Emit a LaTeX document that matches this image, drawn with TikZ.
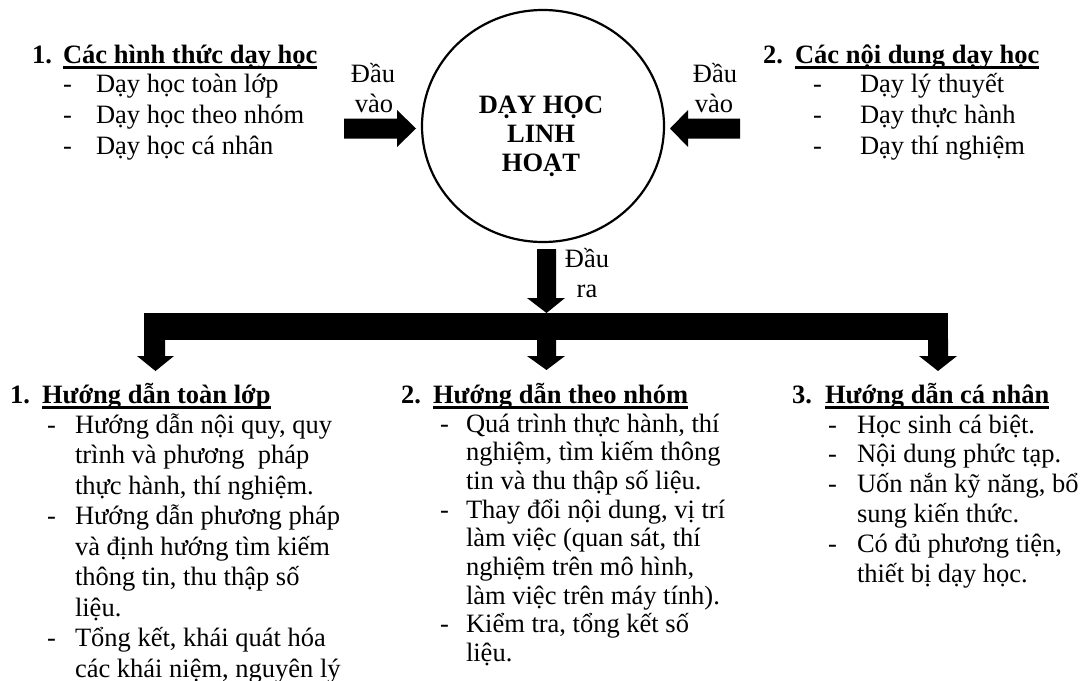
\documentclass[tikz,border=0pt]{standalone}
\usepackage{fontspec}
\setmainfont{Liberation Serif}
\begin{document}
\begin{tikzpicture}[x=1pt,y=-1pt,
  every node/.style={inner sep=0pt,outer sep=0pt},
  txt/.style={anchor=base west,font=\fontsize{26.5}{31}\selectfont},
  bld/.style={anchor=base west,font=\fontsize{26.5}{31}\selectfont\bfseries},
  ctr/.style={anchor=base,font=\fontsize{26.5}{31}\selectfont},
  ctrb/.style={anchor=base,font=\fontsize{26.5}{31}\selectfont\bfseries},
  uline/.style={line width=2.6pt},
  ring/.style={line width=2.2pt},
  blockarrow/.style={fill=black,draw=none}]
\useasboundingbox (0,0) rectangle (1084,680);
\clip (0,0) rectangle (1084,680);

% ---- centre circle
\coordinate (c) at (543,126);
\draw[ring] (c) ellipse [x radius=121, y radius=116];
\node[ctrb] (c1) at (541,113) {DẠY HỌC};
\node[ctrb] (c2) at (541,142) {LINH};
\node[ctrb] (c3) at (541,171) {HOẠT};

% ---- top left list
\node[bld] (n1) at (32,63) {1.};
\node[bld] (t1) at (63,63) {Các hình thức dạy học};
\draw[uline] ([yshift=-4.5pt]t1.base west) -- ([yshift=-4.5pt]t1.base east);
\foreach \s [count=\i from 0] in {Dạy học toàn lớp,Dạy học theo nhóm,Dạy học cá nhân}{
  \node[txt] (tld\i) at (63,92+31*\i) {-};
  \node[txt] (tl\i) at (96,92+31*\i) {\s};
}

% ---- top right list
\node[bld] (n2) at (763,63) {2.};
\node[bld] (t2) at (795,63) {Các nội dung dạy học};
\draw[uline] ([yshift=-4.5pt]t2.base west) -- ([yshift=-4.5pt]t2.base east);
\foreach \s [count=\i from 0] in {Dạy lý thuyết,Dạy thực hành,Dạy thí nghiệm}{
  \node[txt] (trd\i) at (813,92+31*\i) {-};
  \node[txt] (tr\i) at (860,92+31*\i) {\s};
}

% ---- input arrows and labels
\node[ctr] (inl1) at (373,82) {Đầu};
\node[ctr] (inl2) at (374,112) {vào};
\fill[blockarrow] (344,118.5) -- (397,118.5) -- (397,110) -- (416,128.5) -- (397,147) -- (397,138.5) -- (344,138.5) -- cycle;
\node[ctr] (inr1) at (715,82) {Đầu};
\node[ctr] (inr2) at (714,112) {vào};
\fill[blockarrow] (740,118.5) -- (688,118.5) -- (688,110) -- (670,128.5) -- (688,147) -- (688,138.5) -- (740,138.5) -- cycle;

% ---- output arrow, bar and branches
\node[ctr] (out1) at (587,267) {Đầu};
\node[ctr] (out2) at (587,297) {ra};
\fill[blockarrow] (537,249) -- (556,249) -- (556,298) -- (565,298) -- (546.5,313) -- (527,298) -- (537,298) -- cycle;
\fill[blockarrow] (144,313) rectangle (948,340);
\fill[blockarrow] (144,339) -- (165,339) -- (165,356) -- (174,356) -- (155.5,371) -- (137,356) -- (144,356) -- cycle;
\fill[blockarrow] (537,339) -- (556,339) -- (556,356) -- (565,356) -- (546.5,370) -- (527,356) -- (537,356) -- cycle;
\fill[blockarrow] (928,339) -- (948,339) -- (948,356) -- (957,356) -- (938,371) -- (919,356) -- (928,356) -- cycle;

% ---- bottom column 1
\node[bld] (b1n) at (10,403) {1.};
\node[bld] (b1t) at (42,403) {Hướng dẫn toàn lớp};
\draw[uline] ([yshift=-4.5pt]b1t.base west) -- ([yshift=-4.5pt]b1t.base east);
\foreach \s [count=\i from 0] in {{Hướng dẫn nội quy, quy},{trình và phương\ \ pháp},{thực hành, thí nghiệm.},{Hướng dẫn phương pháp},{và định hướng tìm kiếm},{thông tin, thu thập số},{liệu.},{Tổng kết, khái quát hóa},{các khái niệm, nguyên lý}}{
  \node[txt] (b1l\i) at (75,433+30.5*\i) {\s};
}
\foreach \i in {0,3,7}{\node[txt] (b1d\i) at (47,433+30.5*\i) {-};}

% ---- bottom column 2
\node[bld] (b2n) at (401,403) {2.};
\node[bld] (b2t) at (433,403) {Hướng dẫn theo nhóm};
\draw[uline] ([yshift=-4.5pt]b2t.base west) -- ([yshift=-4.5pt]b2t.base east);
\foreach \s [count=\i from 0] in {{Quá trình thực hành, thí},{nghiệm, tìm kiếm thông},{tin và thu thập số liệu.},{Thay đổi nội dung, vị trí},{làm việc (quan sát, thí},{nghiệm trên mô hình,},{làm việc trên máy tính).},{Kiểm tra, tổng kết số},{liệu.}}{
  \node[txt] (b2l\i) at (466,432+28.7*\i) {\s};
}
\foreach \i in {0,3,7}{\node[txt] (b2d\i) at (440,432+28.7*\i) {-};}

% ---- bottom column 3
\node[bld] (b3n) at (792,403) {3.};
\node[bld] (b3t) at (825,403) {Hướng dẫn cá nhân};
\draw[uline] ([yshift=-4.5pt]b3t.base west) -- ([yshift=-4.5pt]b3t.base east);
\foreach \s [count=\i from 0] in {{Học sinh cá biệt.},{Nội dung phức tạp.},{Uốn nắn kỹ năng, bổ},{sung kiến thức.},{Có đủ phương tiện,},{thiết bị dạy học.}}{
  \node[txt] (b3l\i) at (857,433+29.8*\i) {\s};
}
\foreach \i in {0,1,2,4}{\node[txt] (b3d\i) at (828,433+29.8*\i) {-};}
\end{tikzpicture}
\end{document}
